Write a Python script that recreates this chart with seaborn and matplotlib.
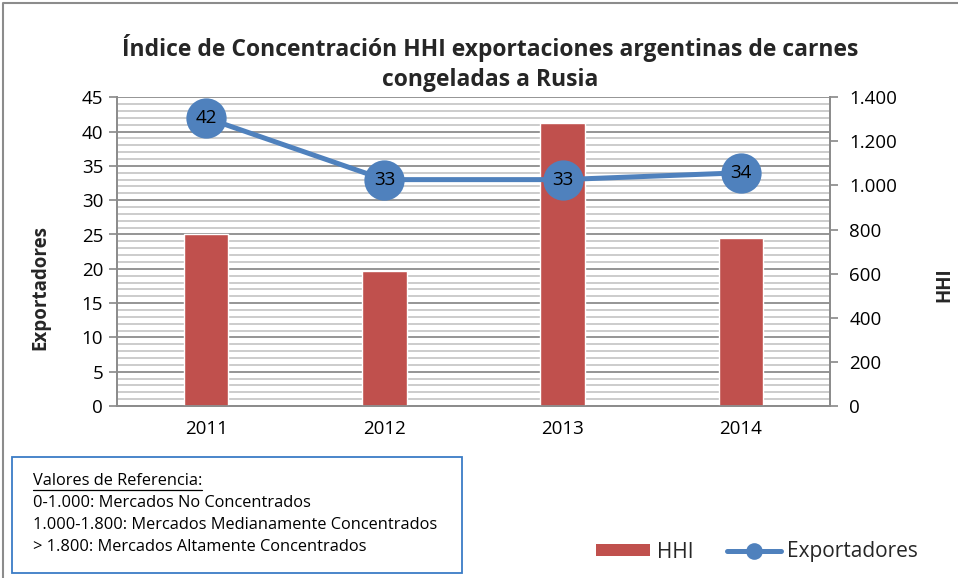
import matplotlib
matplotlib.use("Agg")
import matplotlib.pyplot as plt
import seaborn as sns
import pandas as pd
from matplotlib.lines import Line2D
from matplotlib.patches import Patch, Rectangle
from matplotlib.ticker import FuncFormatter, MultipleLocator

years = ["2011", "2012", "2013", "2014"]
hhi = [779, 611, 1282, 761]
exportadores = [42, 33, 33, 34]

title = "Índice de Concentración HHI exportaciones argentinas de carnes\ncongeladas a Rusia"
ref_lines = ["Valores de Referencia:",
             "0-1.000: Mercados No Concentrados",
             "1.000-1.800: Mercados Medianamente Concentrados",
             "> 1.800: Mercados Altamente Concentrados"]

sns.set_theme(style="white")
plt.rcParams['font.family'] = ['Open Sans', 'DejaVu Sans']

BAR = "#C0504D"
LINE = "#4F81BD"
GRID_MAJ = "#8C8C8C"
GRID_MIN = "#C8C8C8"
TXT = "#000000"
FS = 13.5

df = pd.DataFrame({"year": years, "HHI": hhi, "Exportadores": exportadores})

fig = plt.figure(figsize=(9.58, 5.78), dpi=100)
ax = fig.add_axes([117/958, 1-406/578, (830-117)/958, (406-97.3)/578])

# left axis (grid, ticks)
ax.set_ylim(0, 45)
ax.yaxis.set_major_locator(MultipleLocator(5))
ax.yaxis.set_minor_locator(MultipleLocator(1))
ax.grid(which="major", axis="y", color=GRID_MAJ, linewidth=1.3)
ax.grid(which="minor", axis="y", color=GRID_MIN, linewidth=1.3)
ax.set_axisbelow(True)

# bars on right axis
ax2 = ax.twinx()
sns.barplot(data=df, x="year", y="HHI", color=BAR, width=0.25, saturation=1, ax=ax2)
ax2.set_ylim(0, 1400)
ax2.yaxis.set_major_locator(MultipleLocator(200))
ax2.yaxis.set_major_formatter(FuncFormatter(lambda v, p: f"{int(v):,}".replace(",", ".")))
ax2.set_xlim(-0.5, 3.5)

# line on third axes sharing left scale
ax3 = ax.twinx()
sns.lineplot(data=df, x="year", y="Exportadores", color=LINE, linewidth=3.6,
             marker="o", markersize=29, markeredgewidth=0, sort=False, ax=ax3)
ax3.set_ylim(0, 45)
ax3.set_xlim(-0.5, 3.5)
ax3.axis("off")
for i, v in enumerate(exportadores):
    ax3.text(i, v, str(v), ha="center", va="center", fontsize=FS, color=TXT)

for a in (ax, ax2):
    for s in a.spines.values():
        s.set_color(GRID_MAJ)
        s.set_linewidth(1.3)
    a.spines["top"].set_visible(False)

ax.tick_params(axis="y", which="major", direction="out", length=6, color=GRID_MAJ,
               labelsize=FS, labelcolor=TXT, left=True, pad=4)
ax.tick_params(axis="y", which="minor", length=0)
ax.tick_params(axis="x", length=0, labelsize=FS, labelcolor=TXT, pad=10)
ax.set_xticks(range(len(years)))
ax.set_xticklabels(years)
ax.set_xlim(-0.5, 3.5)
ax2.tick_params(axis="y", direction="out", length=6, color=GRID_MAJ,
                labelsize=FS, labelcolor=TXT, right=True, pad=8)
ax2.tick_params(axis="x", length=0)

ax.set_xlabel("")
ax.set_ylabel("Exportadores", fontsize=FS, fontweight="bold")
ax.yaxis.set_label_coords((40-117)/713, (406-287)/308.7)
ax2.set_ylabel("HHI", fontsize=FS, fontweight="bold", rotation=90)
ax2.yaxis.set_label_coords((944-117)/713, (406-285)/308.7)
ax2.yaxis.label.set_va("center")
ax.yaxis.label.set_va("center")

fig.text(490/958, 1-63/578, title, ha="center", va="center", fontsize=16.5,
         fontweight="bold", linespacing=1.35)

# reference box
fig.add_artist(Rectangle((12/958, 1-573/578), 450/958, 116/578, transform=fig.transFigure,
                         fill=False, edgecolor="#3A7CC6", linewidth=1.3))
ys = [481, 503, 525, 547]
texts = []
for t, y in zip(ref_lines, ys):
    texts.append(fig.text(33/958, 1-y/578, t, ha="left", va="center", fontsize=11.8, color=TXT))
fig.canvas.draw()
bb = texts[0].get_window_extent()
x0, x1 = bb.x0 / fig.bbox.width, bb.x1 / fig.bbox.width
fig.add_artist(Line2D([x0, x1], [1-490/578, 1-490/578], transform=fig.transFigure,
                      color=TXT, linewidth=0.9))

# outer chart border (left & top visible)
fig.add_artist(Line2D([3/958, 3/958, 1.0], [0, 1-3/578, 1-3/578], transform=fig.transFigure,
                      color="#8C8C8C", linewidth=1.5))

handles = [Patch(facecolor=BAR, edgecolor="none"),
           Line2D([], [], color=LINE, linewidth=3.6, marker="o", markersize=12, markeredgewidth=0)]
fig.legend(handles, ["HHI", "Exportadores"], loc="center", bbox_to_anchor=(757/958, 1-552/578),
           ncol=2, frameon=False, fontsize=15, handlelength=2.6, handleheight=0.45,
           columnspacing=1.6, handletextpad=0.3)

fig.savefig("out.png", dpi=100)
